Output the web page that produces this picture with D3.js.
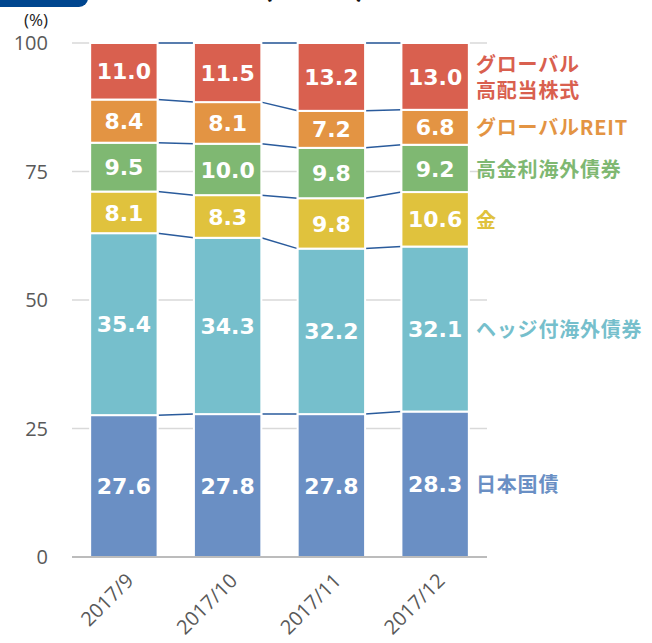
<!DOCTYPE html>
<html><head><meta charset="utf-8">
<script src="https://cdn.jsdelivr.net/npm/d3@7"></script>
<style>
html,body{margin:0;padding:0;background:#fff;}
svg{display:block;}
</style></head>
<body>
<svg id="chart" width="652" height="643"></svg>
<script>
const categories = ["2017/9", "2017/10", "2017/11", "2017/12"];
const seriesNames = ["日本国債", "ヘッジ付海外債券", "金", "高金利海外債券", "グローバルREIT", "グローバル高配当株式"];
const legendLines = [["日本国債"], ["ヘッジ付海外債券"], ["金"], ["高金利海外債券"], ["グローバルREIT"], ["グローバル", "高配当株式"]];
const japanBonds = [27.6, 27.8, 27.8, 28.3];
const hedgedForeignBonds = [35.4, 34.3, 32.2, 32.1];
const gold = [8.1, 8.3, 9.8, 10.6];
const highYieldBonds = [9.5, 10.0, 9.8, 9.2];
const globalREIT = [8.4, 8.1, 7.2, 6.8];
const globalHighDividend = [11.0, 11.5, 13.2, 13.0];
const yTicks = [0, 25, 50, 75, 100];
const colors = ["#6a8fc4", "#76bfcc", "#e0c23d", "#7fb872", "#e39443", "#d9604f"];

const seriesValues = [japanBonds, hedgedForeignBonds, gold, highYieldBonds, globalREIT, globalHighDividend];
const table = categories.map((c, i) => {
  const row = {cat: c};
  seriesNames.forEach((s, j) => row[s] = seriesValues[j][i]);
  return row;
});
const stacked = d3.stack().keys(seriesNames)(table);

const svg = d3.select("#chart");
const pLeft = 72, pRight = 487, pTop = 43, pBottom = 557;
const x = d3.scaleBand().domain(categories).range([pLeft, pRight]).paddingInner(0.35).paddingOuter(0.175);
const y = d3.scaleLinear().domain([0, 100]).range([pBottom, pTop]);

// title remnants (cut off at the top edge in the reference)
svg.append("rect").attr("x", -20).attr("y", -30).attr("width", 108).attr("height", 37).attr("rx", 9).attr("fill", "#00468f");
svg.append("text").attr("x", 262).attr("y", -4).attr("font-family", "Noto Sans CJK JP").attr("font-weight", "bold")
  .attr("font-size", 30).attr("fill", "#111").attr("xml:space", "preserve").text("(            )");

// gridlines
svg.append("g").selectAll("line").data(yTicks.filter(t => t > 0)).join("line")
  .attr("x1", pLeft).attr("x2", pRight).attr("y1", d => y(d)).attr("y2", d => y(d))
  .attr("stroke", "#d9d9d9").attr("stroke-width", 1.3);

// y tick labels
svg.append("g").selectAll("text").data(yTicks).join("text")
  .attr("x", 48).attr("y", d => y(d)).attr("dy", "0.36em").attr("text-anchor", "end")
  .attr("font-family", "Open Sans").attr("font-size", 20).attr("fill", "#595959").text(d => d);
svg.append("text").attr("x", 48).attr("y", 26).attr("text-anchor", "end")
  .attr("font-family", "Open Sans").attr("font-size", 17).attr("fill", "#222").text("(%)");

// connector lines
const conn = svg.append("g");
stacked.forEach(layer => {
  for (let i = 0; i < categories.length - 1; i++) {
    conn.append("line")
      .attr("x1", x(categories[i]) + x.bandwidth()).attr("x2", x(categories[i + 1]))
      .attr("y1", y(layer[i][1])).attr("y2", y(layer[i + 1][1]))
      .attr("stroke", "#2a5b9c").attr("stroke-width", 1.5);
  }
});

// bars
const g = svg.append("g");
stacked.forEach((layer, j) => {
  g.append("g").selectAll("rect").data(layer).join("rect")
    .attr("x", (d, i) => x(categories[i])).attr("width", x.bandwidth())
    .attr("y", d => y(d[1])).attr("height", d => y(d[0]) - y(d[1]))
    .attr("fill", colors[j]).attr("stroke", "#fff").attr("stroke-width", 2);
  g.append("g").selectAll("text").data(layer).join("text")
    .attr("x", (d, i) => x(categories[i]) + x.bandwidth() / 2)
    .attr("y", d => (y(d[0]) + y(d[1])) / 2).attr("dy", "0.37em")
    .attr("text-anchor", "middle").attr("font-family", "DejaVu Sans").attr("font-weight", "bold")
    .attr("font-size", 22).attr("fill", "#fff").text(d => (d[1] - d[0]).toFixed(1));
});

// axis baseline
svg.append("line").attr("x1", pLeft).attr("x2", pRight).attr("y1", y(0)).attr("y2", y(0))
  .attr("stroke", "#a6a6a6").attr("stroke-width", 1.5);

// x labels
svg.append("g").selectAll("text").data(categories).join("text")
  .attr("transform", d => `translate(${x(d) + x.bandwidth() / 2 + 11},${y(0) + 25}) rotate(-45)`)
  .attr("text-anchor", "end").attr("font-family", "Open Sans").attr("font-size", 20).attr("fill", "#595959").text(d => d);

// right labels
const lastIdx = categories.length - 1;
const lg = svg.append("g");
stacked.forEach((layer, j) => {
  const mid = (y(layer[lastIdx][0]) + y(layer[lastIdx][1])) / 2;
  const lines = legendLines[j];
  lines.forEach((ln, k) => {
    lg.append("text").attr("x", 476)
      .attr("y", mid + 1 + (k - (lines.length - 1) / 2) * 26).attr("dy", "0.36em")
      .attr("font-family", "Noto Sans CJK JP").attr("font-weight", "bold").attr("font-size", 20)
      .attr("letter-spacing", 0.8).attr("fill", colors[j]).text(ln);
  });
});
</script>
</body></html>
